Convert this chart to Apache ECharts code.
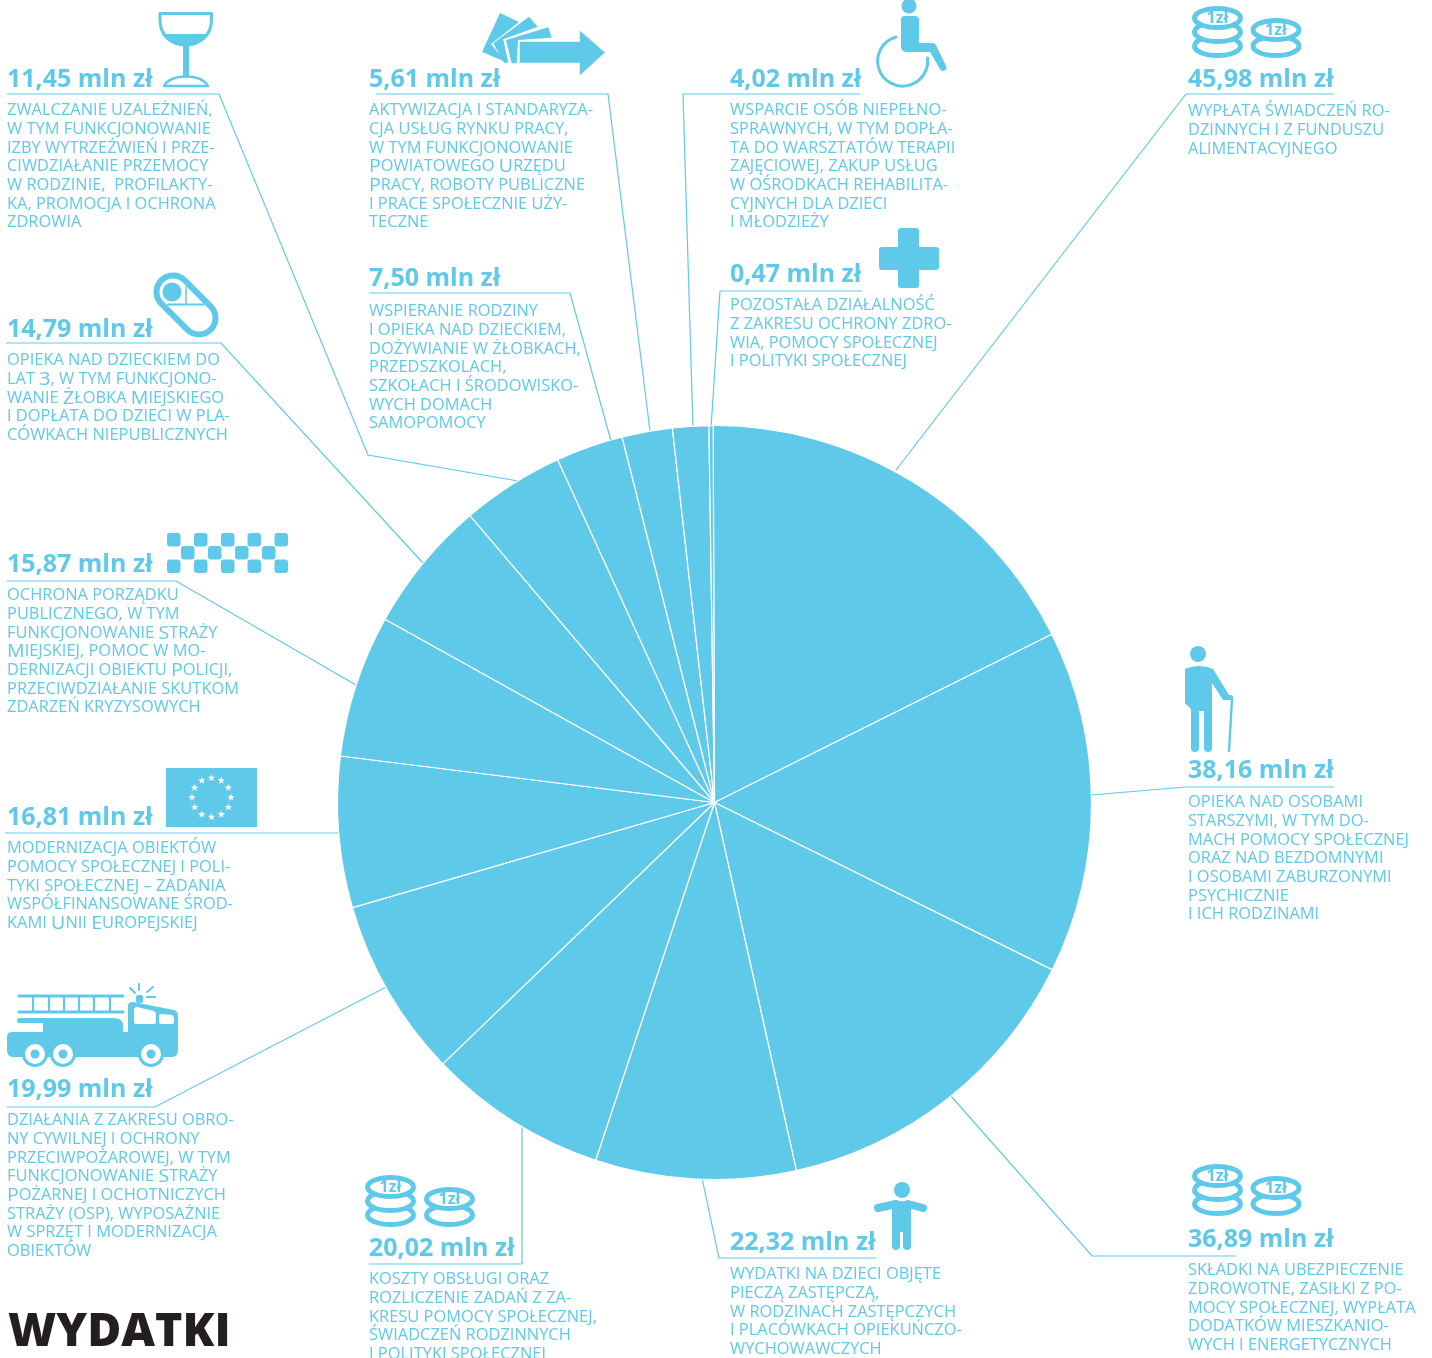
<!DOCTYPE html>
<html><head><meta charset="utf-8">
<style>html,body{margin:0;padding:0;background:#fff}#c{width:1432px;height:1358px}</style>
<script src="https://cdn.jsdelivr.net/npm/echarts@6/dist/echarts.min.js"></script>
</head><body><div id="c"></div>
<script>
const values=[45.98,38.16,36.89,22.32,20.02,19.99,16.81,15.87,14.79,11.45,7.50,5.61,4.02,0.47];
const valueLabels=['45,98 mln zł','38,16 mln zł','36,89 mln zł','22,32 mln zł','20,02 mln zł','19,99 mln zł','16,81 mln zł','15,87 mln zł','14,79 mln zł','11,45 mln zł','7,50 mln zł','5,61 mln zł','4,02 mln zł','0,47 mln zł'];
const descriptions=[
'WYPŁATA ŚWIADCZEŃ RO-\nDZINNYCH I Z FUNDUSZU\nALIMENTACYJNEGO',
'OPIEKA NAD OSOBAMI\nSTARSZYMI, W TYM DO-\nMACH POMOCY SPOŁECZNEJ\nORAZ NAD BEZDOMNYMI\nI OSOBAMI ZABURZONYMI\nPSYCHICZNIE\nI ICH RODZINAMI',
'SKŁADKI NA UBEZPIECZENIE\nZDROWOTNE, ZASIŁKI Z PO-\nMOCY SPOŁECZNEJ, WYPŁATA\nDODATKÓW MIESZKANIO-\nWYCH I ENERGETYCZNYCH',
'WYDATKI NA DZIECI OBJĘTE\nPIECZĄ ZASTĘPCZĄ,\nW RODZINACH ZASTĘPCZYCH\nI PLACÓWKACH OPIEKUŃCZO-\nWYCHOWAWCZYCH',
'KOSZTY OBSŁUGI ORAZ\nROZLICZENIE ZADAŃ Z ZA-\nKRESU POMOCY SPOŁECZNEJ,\nŚWIADCZEŃ RODZINNYCH\nI POLITYKI SPOŁECZNEJ',
'DZIAŁANIA Z ZAKRESU OBRO-\nNY CYWILNEJ I OCHRONY\nPRZECIWPOŻAROWEJ, W TYM\nFUNKCJONOWANIE {b|S}TRAŻY\n{b|P}OŻARNEJ I OCHOTNICZYCH\nSTRAŻY (OSP), WYPOSAŻNIE\nW SPRZĘT I MODERNIZACJA\nOBIEKTÓW',
'MODERNIZACJA OBIEKTÓW\nPOMOCY SPOŁECZNEJ I POLI-\nTYKI SPOŁECZNEJ – ZADANIA\nWSPÓŁFINANSOWANE ŚROD-\nKAMI {b|U}NII {b|E}UROPEJSKIEJ',
'OCHRONA PORZĄDKU\nPUBLICZNEGO, W TYM\nFUNKCJONOWANIE {b|S}TRAŻY\n{b|M}IEJSKIEJ, POMOC W MO-\nDERNIZACJI OBIEKTU {b|P}OLICJI,\nPRZECIWDZIAŁANIE SKUTKOM\nZDARZEŃ KRYZYSOWYCH',
'OPIEKA NAD DZIECKIEM DO\nLAT {b|3}, W TYM FUNKCJONO-\nWANIE {b|Ż}ŁOBKA {b|M}IEJSKIEGO\nI DOPŁATA DO DZIECI W PLA-\nCÓWKACH NIEPUBLICZNYCH',
'ZWALCZANIE UZALEŻNIEŃ,\nW TYM FUNKCJONOWANIE\nIZBY WYTRZEŹWIEŃ I PRZE-\nCIWDZIAŁANIE PRZEMOCY\nW RODZINIE,  PROFILAKTY-\nKA, PROMOCJA I OCHRONA\nZDROWIA',
'WSPIERANIE RODZINY\nI OPIEKA NAD DZIECKIEM,\nDOŻYWIANIE W ŻŁOBKACH,\nPRZEDSZKOLACH,\nSZKOŁACH I ŚRODOWISKO-\nWYCH DOMACH\nSAMOPOMOCY',
'AKTYWIZACJA I STANDARYZA-\nCJA USŁUG RYNKU PRACY,\nW TYM FUNKCJONOWANIE\n{b|P}OWIATOWEGO {b|U}RZĘDU\n{b|P}RACY, ROBOTY PUBLICZNE\nI PRACE SPOŁECZNIE UŻY-\nTECZNE',
'WSPARCIE OSÓB NIEPEŁNO-\nSPRAWNYCH, W TYM DOPŁA-\nTA DO WARSZTATÓW TERAPII\nZAJĘCIOWEJ, ZAKUP USŁUG\nW OŚRODKACH REHABILITA-\nCYJNYCH DLA DZIECI\nI MŁODZIEŻY',
'POZOSTAŁA DZIAŁALNOŚĆ\nZ ZAKRESU OCHRONY ZDRO-\nWIA, POMOCY SPOŁECZNEJ\nI POLITYKI SPOŁECZNEJ'];
const heading='WYDATKI';

const BLUE='#5fc9e9';
const valuePos=[[1188,80],[1188,771],[1188,1240],[730,1243],[369,1249],[7,1090],[7,818],[7,565],[7,330],[7,80],[369,279],[369,80],[730,80],[730,275]];
const descPos=[[1188,112],[1188,803],[1188,1271],[730,1275],[369,1280],[7,1121],[7,849],[7,596],[7,361],[7,111],[369,312],[369,111],[730,111],[730,306]];
const leaders=[
[[896,470],[1186,94],[1334,94]],
[[1091,795],[1186,787],[1334,787]],
[[950,1095],[1092,1256],[1236,1256]],
[[702,1178],[719,1258],[876,1258]],
[[522,1125],[522,1264],[369,1264]],
[[386,987],[155,1107],[7,1107]],
[[340,833],[5,833]],
[[356,685],[176,581],[7,581]],
[[423,563],[221,343],[6,343]],
[[518,481],[368,455],[219,94],[7,94]],
[[611,441],[570,293],[369,293]],
[[650,431],[608,94],[376,94]],
[[693,428],[683,94],[860,94]],
[[711,428],[720,291],[862,291]]];

const g=[];
let pathId=0;
const pathEl=(d,style)=>{const name='iconPath'+(pathId++);echarts.graphic.registerShape(name,echarts.graphic.extendPath(d));g.push({type:name,style});};
const fill=(d)=>pathEl(d,{fill:BLUE});
const stroke=(d,w,c)=>pathEl(d,{fill:null,stroke:c||BLUE,lineWidth:w,lineCap:'round',lineJoin:'round'});
const circle=(cx,cy,r,f,s,w)=>g.push({type:'circle',shape:{cx,cy,r},style:{fill:f||BLUE,stroke:s||null,lineWidth:w||0}});
const rect=(x,y,w,h,r,f)=>g.push({type:'rect',shape:{x,y,width:w,height:h,r:r||0},style:{fill:f||BLUE}});

leaders.forEach(p=>g.push({type:'polyline',shape:{points:p},style:{fill:null,stroke:BLUE,lineWidth:1.2}}));

valueLabels.forEach((t,i)=>g.push({type:'text',x:valuePos[i][0],y:valuePos[i][1],style:{text:t,fill:BLUE,font:'bold 25px "Open Sans"',verticalAlign:'middle'}}));
descriptions.forEach((t,i)=>g.push({type:'text',x:descPos[i][0],y:descPos[i][1]-9.3,scaleX:1.06,style:{
  text:t,fill:BLUE,fontFamily:'"Open Sans"',fontWeight:500,fontSize:15.5,lineHeight:18.67,verticalAlign:'top',
  rich:{b:{fontFamily:'"Open Sans"',fontWeight:500,fontSize:18.5,lineHeight:18.67,fill:BLUE}}}}));
g.push({type:'text',x:8,y:1333,style:{text:heading,fill:'#231f20',font:'800 46.5px "Open Sans"',verticalAlign:'middle'}});

// glass
stroke('M160 13.5H211.5V20C211.5 35 200 45 185.5 45C171 45 160 35 160 20Z',3);
fill('M162 34H209C205 41 196 45 185.5 45C175 45 166 41 162 34Z');
rect(183,45,6,31);
stroke('M164 86H208C204 79 195 76.5 186 76.5C177 76.5 168 79 164 86Z',2.5);
// cards and arrow
fill('M500 13L519 22L491 44L506 62L482 52Z');
fill('M493.3 43.3L529 16.7L537.7 26.7L503.3 39.3L508.3 62.7L504 62.7Z');
fill('M506 40L548.3 27.3L551.7 37.7L518 40L516.7 63.3L511.7 63.3Z');
pathEl('M519 41H579V29L606 52.5L579 77V63.5H519Z',{fill:BLUE,stroke:'#fff',lineWidth:1.5});
// wheelchair
circle(909,6,7.5);
fill('M901 20a4 4 0 0 1 4-4h10a4 4 0 0 1 4 4V43H932a4 4 0 0 1 4 2L946 66a3 3 0 0 1-6 3L930 52H906a5 5 0 0 1-5-5Z');
stroke('M896 37A25 25 0 1 0 927.5 58',3);
// plus
rect(898,228,21,60,3);rect(879,247,60,23,3);
// coins
function coins(cx,cy,n,step){
  for(let i=n-1;i>=0;i--){g.push({type:'ellipse',shape:{cx,cy:cy+i*step,rx:23,ry:9.5},style:{fill:'#fff',stroke:BLUE,lineWidth:5}});}
  g.push({type:'text',x:cx,y:cy+0.5,style:{text:'1zł',fill:BLUE,font:'bold 16px "Open Sans"',align:'center',verticalAlign:'middle'}});
}
[[1217.5,18,3,14],[1276,30,2,16],[1217.5,1176,3,14],[1276,1188,2,16],[390.5,1187,3,14],[449.5,1199,2,16]].forEach(c=>coins(...c));
// pill
stroke('M173 292L199 318',39);
stroke('M173 292L199 318',27,'#fff');
circle(172,292,9.5);
stroke('M168 304.5H204',2);stroke('M186 287V304',1.5);
// checkers
[533,559.5].forEach(y=>[167,194,221,247.5,274.5].forEach(x=>rect(x,y,13.5,13.5,3)));
[181,208,235,262].forEach(x=>rect(x,546,13.5,13.5,3));
// flag
rect(166,768,91,59);
for(let i=0;i<12;i++){const a=i*Math.PI/6,cx=211.5+19.5*Math.sin(a),cy=797.5-19.5*Math.cos(a),pts=[];
  for(let k=0;k<10;k++){const r=k%2?1.6:4,b=k*Math.PI/5;pts.push([cx+r*Math.sin(b),cy-r*Math.cos(b)]);}
  g.push({type:'polygon',shape:{points:pts},style:{fill:'#fff'}});}
// elderly person
circle(1198,654,8);
fill('M1185 669Q1199 663 1213 669L1229 695H1231Q1233 695 1233 698V700H1223L1212 683V748a4 4 0 0 1-8 0V711H1199V748a4 4 0 0 1-8 0V709L1185 703Z');
stroke('M1232 699L1229 751',2.4);
// child
circle(902,1190,8);
stroke('M878 1208L896 1204M908 1204L923 1208',8);
fill('M892 1203Q902 1199 911 1203V1246a4 4 0 0 1-8 0V1232H900V1246a4 4 0 0 1-8 0Z');
// truck
stroke('M19 996H123M19 1012H123',3);
stroke('M33 996V1012M49 996V1012M64 996V1012M79 996V1012M94 996V1012M110 996V1012',2.2);
fill('M7 1037Q7 1032 12 1032H43V1023H20Q17 1023 17 1020.5Q17 1018 20 1018H113Q122 1018 123 1024V1032H128V1006Q128 1002 133 1002L174 1010Q178 1011 178 1016V1050Q178 1057 172 1057H13Q7 1057 7 1050Z');
pathEl('M134 1010Q134 1007 137 1007L154 1011Q156 1012 156 1014V1022Q156 1024 154 1024H136Q134 1024 134 1022ZM159 1016Q159 1014 162 1014L172 1015Q174 1016 174 1018V1022Q174 1024 172 1024H161Q159 1024 159 1022Z',{fill:'#fff'});
[35,63,151].forEach(x=>{circle(x,1054,11.5,'#fff',BLUE,3);circle(x,1054,4.5);});
rect(136,995,7,8,2);
stroke('M139 984V990M130 988L135 993M153 987L147 992M147 997H155',2);

const chart=echarts.init(document.getElementById('c'),null,{width:1432,height:1358});
chart.setOption({animation:false,backgroundColor:'#fff',
  series:[{type:'pie',silent:true,center:[714.5,802.5],radius:[0,377],startAngle:90.2,clockwise:true,
    label:{show:false},labelLine:{show:false},
    itemStyle:{color:BLUE,borderColor:'#fff',borderWidth:1.2},
    data:values.map((v,i)=>({value:v,name:valueLabels[i]}))}],
  graphic:{elements:g}});
</script></body></html>
